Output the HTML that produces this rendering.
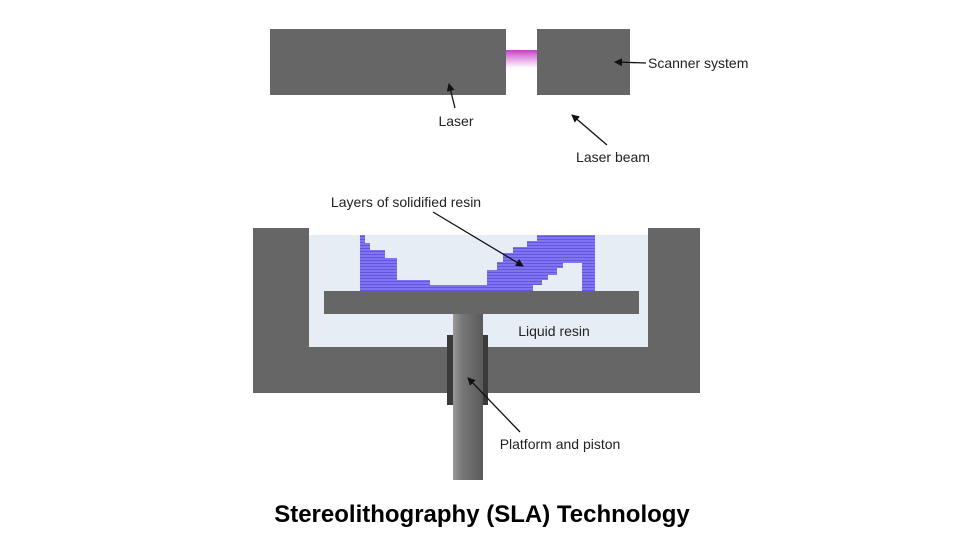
<!DOCTYPE html>
<html><head><meta charset="utf-8"><style>
body{margin:0;background:#fff}
svg text{font-family:"Liberation Sans",sans-serif;fill:#222}
</style></head><body>
<svg width="960" height="540" viewBox="0 0 960 540" xmlns="http://www.w3.org/2000/svg">
<defs>
<linearGradient id="beam" x1="0" y1="0" x2="0" y2="1">
<stop offset="0" stop-color="#c040c8"/><stop offset="0.4" stop-color="#e090e0"/><stop offset="1" stop-color="#fff"/></linearGradient>
<linearGradient id="pist" x1="0" y1="0" x2="1" y2="0">
<stop offset="0" stop-color="#999"/><stop offset="0.3" stop-color="#777"/><stop offset="1" stop-color="#5a5a5a"/></linearGradient>
<pattern id="stripe" width="4" height="3" patternUnits="userSpaceOnUse">
<rect width="4" height="3" fill="#8075f0"/><rect y="2" width="4" height="1" fill="#6356e0"/></pattern>
<marker id="ah" markerWidth="8" markerHeight="8" refX="7" refY="4" orient="auto" markerUnits="userSpaceOnUse"><path d="M0,0 L8,4 L0,8 Z" fill="#111"/></marker>
</defs>
<rect x="270" y="29" width="236" height="66" fill="#666"/>
<rect x="537" y="29" width="93" height="66" fill="#666"/>
<rect x="506" y="50" width="31" height="18" fill="url(#beam)"/>
<rect x="253" y="228" width="447" height="165" fill="#666"/>
<rect x="309" y="235" width="339" height="112" fill="#e6edf5"/>
<rect x="309" y="228" width="339" height="7" fill="#fff"/>
<polygon fill="url(#stripe)" points="360,235 365,235 365,243 370,243 370,250 385,250 385,258 397,258 397,280 430,280 430,285 487,285 487,270 497,270 497,262 503,262 503,253 513,253 513,247 527,247 527,241 537,241 537,235 595,235 595,291 582,291 582,263 563,263 563,268 557,268 557,275 548,275 548,280 542,280 542,285 533,285 533,291 360,291"/>
<rect x="324" y="291" width="315" height="23" fill="#666"/>
<rect x="447" y="335" width="8" height="70" fill="#3a3a3a"/>
<rect x="480" y="335" width="8" height="70" fill="#3a3a3a"/>
<rect x="453" y="314" width="30" height="166" fill="url(#pist)"/>
<g stroke="#111" stroke-width="1.3" fill="none">
<line x1="455" y1="108" x2="449" y2="84" marker-end="url(#ah)"/>
<line x1="646" y1="63" x2="615" y2="62" marker-end="url(#ah)"/>
<line x1="607" y1="145" x2="572" y2="115" marker-end="url(#ah)"/>
<line x1="433" y1="212" x2="523" y2="266" marker-end="url(#ah)"/>
<line x1="520" y1="432" x2="468" y2="378" marker-end="url(#ah)"/>
</g>
<text x="456" y="126" font-size="14" text-anchor="middle">Laser</text>
<text x="648" y="68" font-size="14">Scanner system</text>
<text x="613" y="162" font-size="14" text-anchor="middle">Laser beam</text>
<text x="406" y="207" font-size="14" text-anchor="middle">Layers of solidified resin</text>
<text x="554" y="336" font-size="14" text-anchor="middle">Liquid resin</text>
<text x="560" y="449" font-size="14" text-anchor="middle">Platform and piston</text>
<text x="482" y="522" font-size="24" font-weight="bold" text-anchor="middle" style="fill:#000">Stereolithography (SLA) Technology</text>
</svg>
</body></html>
